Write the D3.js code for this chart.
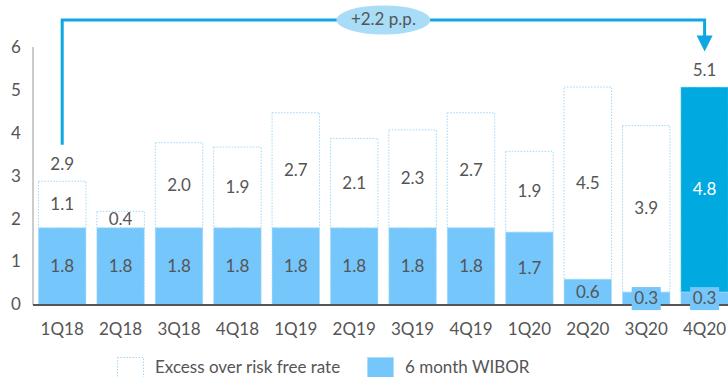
<!DOCTYPE html>
<html>
<head>
<meta charset="utf-8">
<script src="https://cdn.jsdelivr.net/npm/d3@7"></script>
<style>
  html, body { margin: 0; padding: 0; background: #fff; }
  svg { display: block; font-family: Lato, "Open Sans", sans-serif; }
</style>
</head>
<body>
<svg id="chart" width="728" height="377"></svg>
<script>
// Quarterly spread data (%)
const quarters = ["1Q18","2Q18","3Q18","4Q18","1Q19","2Q19","3Q19","4Q19","1Q20","2Q20","3Q20","4Q20"];
const wibor    = [1.8, 1.8, 1.8, 1.8, 1.8, 1.8, 1.8, 1.8, 1.7, 0.6, 0.3, 0.3];
const excess   = [1.1, 0.4, 2.0, 1.9, 2.7, 2.1, 2.3, 2.7, 1.9, 4.5, 3.9, 4.8];
const totals   = [2.9, null, null, null, null, null, null, null, null, null, null, 5.1];
const yTicks   = [0, 1, 2, 3, 4, 5, 6];
const changeLabel = "+2.2 p.p.";
const legendItems = ["Excess over risk free rate", "6 month WIBOR"];

const C = {
  wibor: "#74c6fb",
  excessEdge: "#9fd9f6",
  highlight: "#00a9e0",
  arrow: "#0fa7e2",
  bubble: "#a9dcf7",
  text: "#555555",
  axis: "#555555",
  yAxis: "#cccccc"
};
const FS = 17;

const svg = d3.select("#chart");

const x = d3.scaleBand()
  .domain(quarters)
  .range([33, 733.8])
  .paddingInner(0.17)
  .paddingOuter(0.085);

const y = d3.scaleLinear().domain([0, 6]).range([305, 48]);

// y axis line and tick labels
svg.append("line")
  .attr("x1", 33).attr("x2", 33)
  .attr("y1", y(6) - 1).attr("y2", y(0))
  .attr("stroke", C.yAxis).attr("stroke-width", 2);

svg.selectAll(".ytick").data(yTicks).enter().append("text")
  .attr("class", "ytick")
  .attr("x", 16).attr("y", d => y(d) + 1)
  .attr("text-anchor", "middle").attr("dominant-baseline", "middle")
  .attr("font-size", FS).attr("fill", C.text)
  .text(d => d);

const rows = quarters.map((q, i) => ({ q, i, w: wibor[i], e: excess[i], t: totals[i] }));
const last = quarters.length - 1;

// excess segments
svg.selectAll(".excess").data(rows).enter().append("rect")
  .attr("class", "excess")
  .attr("x", d => x(d.q) + 0.5)
  .attr("width", x.bandwidth() - 1)
  .attr("y", d => y(d.w + d.e) + 0.5)
  .attr("height", d => y(d.w) - y(d.w + d.e) - 0.5)
  .attr("fill", d => d.i === last ? C.highlight : "#fff")
  .attr("stroke", C.excessEdge)
  .attr("stroke-width", 1)
  .attr("stroke-dasharray", "1.5,1.5");

// WIBOR segments
svg.selectAll(".wibor").data(rows).enter().append("rect")
  .attr("class", "wibor")
  .attr("x", d => x(d.q) + 0.5)
  .attr("width", x.bandwidth() - 1)
  .attr("y", d => y(d.w))
  .attr("height", d => y(0) - y(d.w))
  .attr("fill", C.wibor)
  .attr("stroke", "#a9dcfb")
  .attr("stroke-width", 1)
  .attr("stroke-dasharray", "1.5,1.5");

// baseline
svg.append("line")
  .attr("x1", 33).attr("x2", 728)
  .attr("y1", y(0)).attr("y2", y(0))
  .attr("stroke", C.axis).attr("stroke-width", 2);

// small WIBOR values get a label chip
rows.filter(d => d.w < 0.5).forEach(d => {
  const cx = x(d.q) + x.bandwidth() / 2;
  const cy = (y(0) + y(d.w)) / 2;
  svg.append("rect")
    .attr("x", cx - 14.5).attr("y", cy - 11.5)
    .attr("width", 29).attr("height", 23)
    .attr("fill", C.wibor);
});

// segment value labels
svg.selectAll(".wlab").data(rows).enter().append("text")
  .attr("class", "wlab")
  .attr("x", d => x(d.q) + x.bandwidth() / 2)
  .attr("y", d => (y(0) + y(d.w)) / 2 + 1.5)
  .attr("text-anchor", "middle").attr("dominant-baseline", "middle")
  .attr("font-size", FS).attr("fill", C.text)
  .text(d => d.w.toFixed(1));

svg.selectAll(".elab").data(rows).enter().append("text")
  .attr("class", "elab")
  .attr("x", d => x(d.q) + x.bandwidth() / 2)
  .attr("y", d => (y(d.w) + y(d.w + d.e)) / 2 + 1.5)
  .attr("text-anchor", "middle").attr("dominant-baseline", "middle")
  .attr("font-size", FS)
  .attr("fill", d => d.i === last ? "#fff" : C.text)
  .text(d => d.e.toFixed(1));

// totals above selected bars
svg.selectAll(".tlab").data(rows.filter(d => d.t !== null)).enter().append("text")
  .attr("class", "tlab")
  .attr("x", d => x(d.q) + x.bandwidth() / 2)
  .attr("y", d => y(d.t) - 15)
  .attr("text-anchor", "middle").attr("dominant-baseline", "middle")
  .attr("font-size", FS).attr("fill", C.text)
  .text(d => d.t.toFixed(1));

// x axis labels
svg.selectAll(".xlab").data(quarters).enter().append("text")
  .attr("class", "xlab")
  .attr("x", d => x(d) + x.bandwidth() / 2)
  .attr("y", 331)
  .attr("text-anchor", "middle").attr("dominant-baseline", "middle")
  .attr("font-size", FS).attr("fill", C.text)
  .text(d => d);

// change bracket from first to last quarter
const x0 = x(quarters[0]) + x.bandwidth() / 2;
const x1 = x(quarters[last]) + x.bandwidth() / 2;
const yLine = 20;
const yStart = y(totals[0]) - 36;
const yTip = y(totals[last]) - 35;
svg.append("path")
  .attr("d", `M${x0},${yStart} V${yLine} H${x1} V${yTip - 14}`)
  .attr("fill", "none").attr("stroke", C.arrow).attr("stroke-width", 3);
svg.append("path")
  .attr("d", `M${x1 - 8},${yTip - 16} L${x1 + 8},${yTip - 16} L${x1},${yTip} Z`)
  .attr("fill", C.arrow);

const bx = (x0 + x1) / 2;
svg.append("ellipse")
  .attr("cx", bx).attr("cy", yLine)
  .attr("rx", 47).attr("ry", 14.5)
  .attr("fill", C.bubble);
svg.append("text")
  .attr("x", bx).attr("y", yLine + 1)
  .attr("text-anchor", "middle").attr("dominant-baseline", "middle")
  .attr("font-size", FS).attr("fill", C.text)
  .text(changeLabel);

// legend
const legend = [
  { label: legendItems[0], fill: "#fff", x: 117 },
  { label: legendItems[1], fill: C.wibor, x: 367 }
];
legend.forEach(l => {
  svg.append("rect")
    .attr("x", l.x + 0.5).attr("y", 357.5)
    .attr("width", 26).attr("height", 24)
    .attr("fill", l.fill)
    .attr("stroke", C.excessEdge).attr("stroke-width", 1)
    .attr("stroke-dasharray", "1.5,1.5");
  svg.append("text")
    .attr("x", l.x + 38).attr("y", 369)
    .attr("dominant-baseline", "middle")
    .attr("font-size", FS).attr("fill", C.text)
    .text(l.label);
});
</script>
</body>
</html>
